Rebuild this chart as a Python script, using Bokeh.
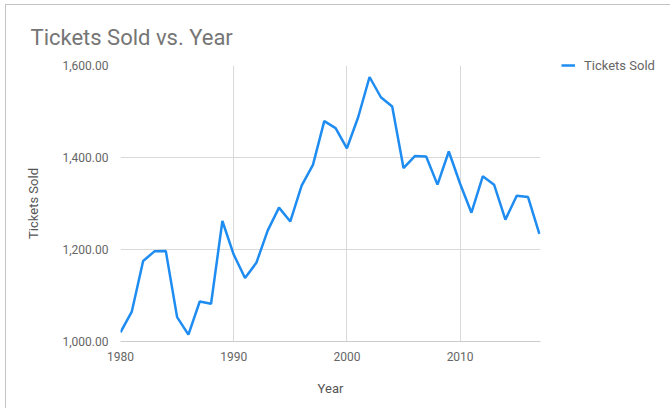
from bokeh.plotting import figure
from bokeh.models import (ColumnDataSource, NumeralTickFormatter, FixedTicker,
                          Range1d, Legend, LegendItem)
from bokeh.embed import file_html
from bokeh.resources import INLINE

# Annual ticket sales
years = list(range(1980, 2018))
tickets_sold = [1020, 1065, 1175, 1196, 1197, 1053, 1015, 1087, 1082, 1262,
                1189, 1138, 1171, 1241, 1291, 1261, 1339, 1384, 1479, 1464,
                1420, 1488, 1575, 1531, 1511, 1377, 1403, 1402, 1341, 1413,
                1343, 1280, 1359, 1341, 1265, 1317, 1314, 1234]
x_ticks = [1980, 1990, 2000, 2010]
y_ticks = [1000, 1200, 1400, 1600]

FONT = "Roboto"
TEXT = "#666666"
GRID = "#d9d9d9"
BLUE = "#1e8cf0"

src = ColumnDataSource(data=dict(year=years, sold=tickets_sold))

p = figure(frame_width=420, frame_height=276, output_backend="svg",
           toolbar_location=None,
           x_range=Range1d(1980, 2017.1), y_range=Range1d(1000, 1600),
           min_border_left=114, min_border_right=130, min_border_top=60,
           min_border_bottom=67)
p.margin = (4, 0, 0, 5)
p.styles = {"border-top": "1px solid #c4c4c4", "border-left": "1px solid #c4c4c4"}

p.title.text = "Tickets Sold vs. Year"
p.title.text_font = FONT
p.title.text_font_size = "22px"
p.title.text_font_style = "normal"
p.title.text_color = "#757575"
p.title.align = "left"
p.title.offset = -90
p.title.standoff = 32

p.outline_line_color = None
p.background_fill_color = "white"
p.border_fill_color = "white"

line = p.line("year", "sold", source=src, line_color=BLUE, line_width=2.5)

p.xaxis.ticker = FixedTicker(ticks=x_ticks)
p.yaxis.ticker = FixedTicker(ticks=y_ticks)
p.yaxis.formatter = NumeralTickFormatter(format="0,0.00")
p.xgrid.ticker = FixedTicker(ticks=x_ticks)
p.ygrid.ticker = FixedTicker(ticks=y_ticks)
p.grid.grid_line_color = GRID
p.grid.grid_line_width = 1

for ax in (p.xaxis, p.yaxis):
    ax.major_tick_line_color = None
    ax.minor_tick_line_color = None
    ax.major_label_text_font = FONT
    ax.major_label_text_font_size = "12px"
    ax.major_label_text_color = TEXT
    ax.axis_label_text_font = FONT
    ax.axis_label_text_font_size = "13px"
    ax.axis_label_text_font_style = "normal"
    ax.axis_label_text_color = "#555555"
p.xaxis.axis_line_color = "#cccccc"
p.yaxis.axis_line_color = None
p.xaxis.axis_label = "Year"
p.yaxis.axis_label = "Tickets Sold"
p.xaxis.major_label_standoff = 4
p.xaxis.axis_label_standoff = 17
p.yaxis.major_label_standoff = 6
p.yaxis.axis_label_standoff = 19

legend = Legend(items=[LegendItem(label="Tickets Sold", renderers=[line])],
                location=(21, 268), border_line_color=None,
                background_fill_alpha=0, label_text_font=FONT,
                label_text_font_size="13px", label_text_color=TEXT,
                label_text_baseline="middle",
                glyph_width=14, glyph_height=16, padding=0, margin=0,
                label_standoff=9)
p.add_layout(legend, "right")

open("out.html", "w").write(file_html(p, INLINE))
